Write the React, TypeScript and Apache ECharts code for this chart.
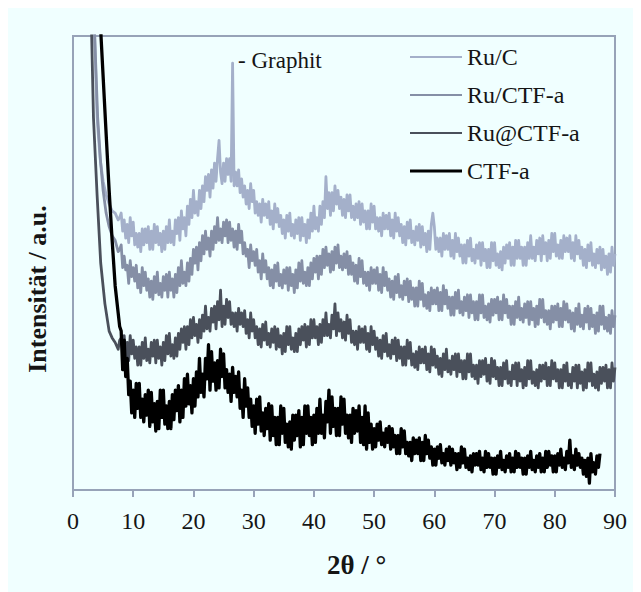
import React, { useEffect, useRef } from "react";
import * as echarts from "echarts";

// Scan grid of the main part of every pattern (2θ in degrees)
const ANGLE_START = 8;
const ANGLE_STEP = 0.25;

const seriesNames = ["Ru/C", "Ru/CTF-a", "Ru@CTF-a", "CTF-a"];
const seriesColors = ["#a4b0ca", "#858fa6", "#4a505b", "#000000"];
const xTicks = [0, 10, 20, 30, 40, 50, 60, 70, 80, 90];

// Low-angle flank of each pattern: [2θ, intensity]
const ruCHead: [number, number][] = [
  [3.0, 130], [3.6, 100], [4.0, 82], [4.5, 73], [5.0, 68], [5.5, 65],
  [6.0, 63], [6.5, 61.5], [7.0, 61], [7.5, 59.5], [7.75, 60],
];
const ruCtfHead: [number, number][] = [
  [3.0, 130], [3.6, 100], [4.1, 82], [4.6, 72], [5.0, 66], [5.5, 61],
  [6.0, 58], [6.5, 56], [7.0, 55], [7.5, 52.5], [7.75, 53],
];
const ruAtCtfHead: [number, number][] = [
  [2.8, 130], [3.1, 100], [3.4, 82], [4.0, 65], [4.6, 50], [5.3, 41],
  [6.0, 35], [6.5, 33.5], [7.0, 32.5], [7.5, 31], [7.75, 33],
];
const ctfHead: [number, number][] = [
  [4.3, 125], [4.65, 100], [5.4, 81], [6.0, 66], [6.5, 55], [7.0, 45],
  [7.5, 39], [7.75, 36],
];

// Intensities from 8° on, every 0.25° (one row of four per degree)
const ruC = [
  61, 57, 59.5, 55.5, 58.5, 54.5, 60, 56, 59, 54, 56.5, 53.5, 56.5, 52.5, 57.5, 54,
  57.5, 54.5, 58, 53, 57, 53, 58.5, 54.5, 58, 54, 56.5, 52.5, 57, 53, 58, 54.5,
  59.5, 54.5, 57, 54, 59.5, 56.5, 60, 55, 61.5, 57.5, 60, 56, 62.5, 58.5, 64, 60,
  66, 61, 63.5, 60.5, 66, 62, 67, 63.5, 69, 66, 69.5, 64.5, 70.5, 66.5, 72, 68,
  73, 77, 70, 67.5, 72, 68, 73, 69.5, 73, 68, 94, 67, 70, 67, 70.5, 65.5,
  68.5, 64.5, 67, 63, 66, 62, 67.5, 63.5, 66, 61, 63.5, 60.5, 63, 59, 64, 60.5,
  63, 60, 63.5, 58.5, 61.5, 57.5, 63, 59, 62, 58, 60.5, 56.5, 59.5, 55.5, 60.5, 57,
  61, 56, 58.5, 55.5, 59.5, 56.5, 60, 55, 60, 56, 58.5, 54.5, 59.5, 55.5, 61, 57,
  62.5, 57.5, 60, 57, 62.5, 58.5, 63.5, 60, 69, 62, 65.5, 60.5, 65.5, 61.5, 67, 63,
  66, 62, 64.5, 60.5, 64, 60, 65, 61.5, 65, 60, 62.5, 59.5, 63, 60, 63.5, 58.5,
  63, 59, 61.5, 57.5, 61.5, 57.5, 63, 59, 62.5, 57.5, 60, 57, 60, 56, 61, 57.5,
  60.5, 57.5, 61, 56, 59.5, 55.5, 61, 57, 60, 56, 58.5, 54.5, 58, 54, 59, 55.5,
  59.5, 54.5, 57, 54, 58, 55, 58.5, 53.5, 58, 54, 56.5, 52.5, 57, 53, 58.5, 61,
  58, 53, 55.5, 52.5, 55.5, 51.5, 56.5, 53, 56, 53, 56.5, 51.5, 55, 51, 56.5, 52.5,
  55.5, 51.5, 54, 50, 54, 50, 55, 51.5, 55.5, 50.5, 53, 50, 54, 51, 54.5, 49.5,
  54.5, 50.5, 53, 49, 53, 49, 54.5, 50.5, 54.5, 49.5, 52, 49, 52.5, 48.5, 53.5, 50,
  54, 51, 54.5, 49.5, 53.5, 49.5, 55, 51, 55, 51, 53.5, 49.5, 53.5, 49.5, 54.5, 51,
  56, 51, 53.5, 50.5, 55, 52, 55.5, 50.5, 56, 52, 54.5, 50.5, 55, 51, 56.5, 52.5,
  56.5, 51.5, 54, 51, 55, 51, 56, 52.5, 55.5, 52.5, 56, 51, 54.5, 50.5, 56, 52,
  55, 51, 53.5, 49.5, 53, 49, 54, 50.5, 54.5, 49.5, 52, 49, 53, 50, 53.5, 48.5,
  53, 49, 51.5, 47.5, 52, 48, 53.5, 49.5, 52,
];
const ruCtf = [
  54, 49, 51.5, 48.5, 49.5, 45.5, 50.5, 47, 49, 46, 49.5, 44.5, 47.5, 43.5, 49, 45,
  48, 44, 46.5, 42.5, 46, 42, 47, 43.5, 48, 43, 45.5, 42.5, 47, 44, 47.5, 42.5,
  48, 44, 46.5, 42.5, 47.5, 43.5, 49, 45, 50.5, 45.5, 48, 45, 50, 46, 51, 47.5,
  53, 50, 53.5, 48.5, 54.5, 50.5, 56, 52, 57, 53, 55.5, 51.5, 57, 53, 58, 54.5,
  60, 55, 57.5, 54.5, 59, 56, 59.5, 54.5, 59, 55, 57.5, 53.5, 57, 53, 58.5, 54.5,
  57, 52, 54.5, 51.5, 53, 49, 54, 50.5, 52.5, 49.5, 53, 48, 50.5, 46.5, 52, 48,
  50.5, 46.5, 49, 45, 48.5, 44.5, 49.5, 46, 50, 45, 47.5, 44.5, 48.5, 45.5, 49, 44,
  49, 45, 47.5, 43.5, 48.5, 44.5, 50, 46, 50.5, 45.5, 48, 45, 49, 45, 50, 46.5,
  51, 48, 51.5, 46.5, 51.5, 47.5, 53, 49, 53.5, 49.5, 52, 48, 52.5, 48.5, 53.5, 50,
  54, 49, 51.5, 48.5, 52, 49, 52.5, 47.5, 51.5, 47.5, 50, 46, 49.5, 45.5, 51, 47,
  50.5, 45.5, 48, 45, 48, 44, 49, 45.5, 48.5, 45.5, 49, 44, 47.5, 43.5, 49, 45,
  48, 44, 46.5, 42.5, 46, 42, 47, 43.5, 47.5, 42.5, 45, 42, 46, 43, 46.5, 41.5,
  46, 42, 44.5, 40.5, 44.5, 40.5, 46, 42, 45.5, 40.5, 43, 40, 43.5, 39.5, 44.5, 41,
  44, 41, 44.5, 39.5, 43.5, 39.5, 45, 41, 44, 40, 42.5, 38.5, 42.5, 38.5, 43.5, 40,
  44, 39, 41.5, 38.5, 42.5, 39.5, 43, 38, 43, 39, 41.5, 37.5, 41.5, 37.5, 43, 39,
  43, 38, 40.5, 37.5, 41, 37, 42, 38.5, 42, 39, 42.5, 37.5, 41.5, 37.5, 43, 39,
  42, 38, 40.5, 36.5, 40.5, 36.5, 41.5, 38, 42.5, 37.5, 40, 37, 41, 38, 41.5, 36.5,
  41.5, 37.5, 40, 36, 40.5, 36.5, 42, 38, 42, 37, 39.5, 36.5, 39.5, 35.5, 40.5, 37,
  40.5, 37.5, 41, 36, 40, 36, 41.5, 37.5, 41, 37, 39.5, 35.5, 39, 35, 40, 36.5,
  41, 36, 38.5, 35.5, 40, 37, 40.5, 35.5, 40, 36, 38.5, 34.5, 39, 35, 40.5, 36.5,
  40.5, 35.5, 38, 35, 38.5, 34.5, 39.5, 36, 38.5,
];
const ruAtCtf = [
  33.5, 30.5, 34, 29, 32.5, 28.5, 34, 30, 33, 29, 31.5, 27.5, 31.5, 27.5, 32.5, 29,
  33.5, 28.5, 31, 28, 32.5, 29.5, 33, 28, 33, 29, 31.5, 27.5, 32.5, 28.5, 34, 30,
  34.5, 29.5, 32, 29, 33.5, 29.5, 34.5, 31, 35.5, 32.5, 36, 31, 36, 32, 37.5, 33.5,
  38, 34, 36.5, 32.5, 37.5, 33.5, 38.5, 35, 40.5, 35.5, 38, 35, 40, 37, 40.5, 35.5,
  41.5, 37.5, 44, 36, 40.5, 36.5, 42, 38, 41.5, 36.5, 39, 36, 39, 35, 40, 36.5,
  39, 36, 39.5, 34.5, 37.5, 33.5, 39, 35, 37.5, 33.5, 36, 32, 35.5, 31.5, 36.5, 33,
  37, 32, 34.5, 31.5, 35.5, 32.5, 36, 31, 35.5, 31.5, 34, 30, 34.5, 30.5, 36, 32,
  36, 31, 33.5, 30.5, 34.5, 30.5, 35.5, 32, 36, 33, 36.5, 31.5, 36, 32, 37.5, 33.5,
  37.5, 33.5, 36, 32, 36.5, 32.5, 37.5, 34, 39, 34, 36.5, 33.5, 38.5, 35.5, 41, 34,
  39, 35, 37.5, 33.5, 37, 33, 38.5, 34.5, 37.5, 32.5, 35, 32, 35, 31, 36, 32.5,
  35.5, 32.5, 36, 31, 34.5, 30.5, 36, 32, 35, 31, 33.5, 29.5, 33, 29, 34, 30.5,
  34.5, 29.5, 32, 29, 33, 30, 33.5, 28.5, 33, 29, 31.5, 27.5, 31.5, 27.5, 33, 29,
  32.5, 27.5, 30, 27, 30.5, 26.5, 31.5, 28, 31, 28, 31.5, 26.5, 30, 26, 31.5, 27.5,
  31, 27, 29.5, 25.5, 29, 25, 30, 26.5, 31, 26, 28.5, 25.5, 29.5, 26.5, 30, 25,
  30, 26, 28.5, 24.5, 28.5, 24.5, 30, 26, 30, 25, 27.5, 24.5, 27.5, 23.5, 28.5, 25,
  28.5, 25.5, 29, 24, 27.5, 23.5, 29, 25, 28.5, 24.5, 27, 23, 27, 23, 28, 24.5,
  28.5, 23.5, 26, 23, 27.5, 24.5, 28, 23, 28, 24, 26.5, 22.5, 27, 23, 28.5, 24.5,
  28.5, 23.5, 26, 23, 26.5, 22.5, 27.5, 24, 27.5, 24.5, 28, 23, 27, 23, 28.5, 24.5,
  28, 24, 26.5, 22.5, 26.5, 22.5, 27.5, 24, 28, 23, 25.5, 22.5, 27, 24, 27.5, 22.5,
  27.5, 23.5, 26, 22, 26.5, 22.5, 28, 24, 28, 23, 25.5, 22.5, 26, 22, 27, 23.5,
  27, 24, 27.5, 22.5, 26.5, 22.5, 28, 24, 27,
];
const ctf = [
  35, 26.5, 33, 25, 29, 21, 24, 17, 22, 16, 23.5, 18, 23.5, 16, 20, 15,
  21, 16.5, 22, 14, 21.5, 15, 19, 13, 19.5, 13.5, 22, 16, 22, 14.5, 18.5, 13.5,
  19.5, 13.5, 21, 15.5, 22, 17.5, 23, 15, 22, 16, 24.5, 18.5, 25.5, 19, 23, 17,
  24.5, 18.5, 26, 20.5, 29, 21.5, 25.5, 20.5, 29, 24.5, 32, 22, 30.5, 24, 28, 22,
  28.5, 22.5, 31, 25, 30, 22.5, 26.5, 21.5, 25.5, 19.5, 27, 21.5, 25, 20.5, 26, 18,
  22, 16, 24.5, 18.5, 22.5, 16, 20, 14, 18.5, 12.5, 20, 14.5, 20.5, 13, 17, 12,
  18, 13.5, 19, 11, 18.5, 12, 16, 10, 16, 10, 18.5, 12.5, 18, 10.5, 14.5, 9.5,
  15, 9, 16.5, 11, 16.5, 12, 17.5, 9.5, 16, 10, 18.5, 12.5, 18.5, 12, 16, 10,
  16.5, 10.5, 18, 12.5, 20, 12.5, 16.5, 11.5, 19.5, 15, 22, 12.5, 20.5, 14, 18, 12,
  18, 12, 20.5, 14.5, 20, 12.5, 16.5, 11.5, 16.5, 10.5, 18, 12.5, 17.5, 13, 18.5, 10.5,
  16, 10, 18.5, 9, 17, 10.5, 14.5, 9, 13.5, 9.5, 14.5, 11, 15, 10, 12.5, 9.5,
  13.5, 10.5, 14, 9, 13.5, 9.5, 12, 8, 12, 8, 13.5, 9.5, 13, 8, 10.5, 7.5,
  10.5, 6.5, 11.5, 8, 11, 8, 11.5, 6.5, 10.5, 6.5, 12, 8, 11, 7, 9.5, 5.5,
  9, 5.5, 9.5, 7, 10, 6, 8, 5.5, 9, 6.5, 9.5, 5.5, 9, 6, 8, 4.5,
  8, 5, 9.5, 6, 9, 5, 7, 4.5, 7.5, 4, 8, 5.5, 8, 5.5, 8.5, 4.5,
  7, 4, 8.5, 5, 8, 5, 7, 3.5, 7, 3.5, 7.5, 5, 8.5, 4.5, 6.5, 4,
  7.5, 5, 8, 4, 7, 4, 8.5, 5, 8, 5, 7, 3.5, 7, 3.5, 7.5, 5,
  8.5, 4.5, 6.5, 4, 7.5, 5, 8, 4, 7, 4, 8.5, 5, 8.5, 5.5, 7.5, 4,
  7.5, 4, 8, 5.5, 9, 5, 7, 4.5, 8.5, 6, 11, 5, 7.5, 4.5, 9, 5.5,
  8, 5, 7, 3.5, 6.5, 3, 7, 1.5, 8, 4, 6, 3.5, 7.5, 5, 8,
];

const heads = [ruCHead, ruCtfHead, ruAtCtfHead, ctfHead];
const bodies = [ruC, ruCtf, ruAtCtf, ctf];
const lineWidths = [2.8, 2.8, 2.8, 3.3];

const SERIF = "'Liberation Serif', 'DejaVu Serif', serif";

function buildPattern(head: [number, number][], body: number[]): [number, number][] {
  return head.concat(body.map((v, i) => [ANGLE_START + i * ANGLE_STEP, v] as [number, number]));
}

export default function App() {
  const ref = useRef<HTMLDivElement>(null);

  useEffect(() => {
    if (!ref.current) return;
    const chart = echarts.init(ref.current, undefined, { renderer: "svg" });

    const series = seriesNames.map((name, k) => ({
      name,
      type: "line" as const,
      data: buildPattern(heads[k], bodies[k]),
      showSymbol: false,
      symbol: "none",
      clip: true,
      lineStyle: { color: seriesColors[k], width: lineWidths[k], join: "round" },
      itemStyle: { color: seriesColors[k] },
      z: 2 + k,
    }));

    chart.setOption({
      animation: false,
      backgroundColor: "#f0ffff",
      grid: {
        left: 65,
        right: 26,
        top: 28,
        bottom: 102,
        show: true,
        borderColor: "#97a3b8",
        borderWidth: 2,
        backgroundColor: "transparent",
      },
      legend: {
        orient: "vertical",
        left: 402,
        top: 37,
        padding: 0,
        itemWidth: 52,
        itemHeight: 14,
        itemGap: 14,
        data: seriesNames.map((name, k) => ({
          name,
          icon: "path://M0,6 L52,6 L52," + (k === 3 ? 9 : 8) + " L0," + (k === 3 ? 9 : 8) + " Z",
        })),
        textStyle: { fontFamily: SERIF, fontSize: 24, color: "#151515", lineHeight: 24 },
        selectedMode: false,
      },
      xAxis: {
        type: "value",
        min: 0,
        max: 90,
        interval: 10,
        axisLine: { show: true, lineStyle: { color: "#97a3b8", width: 2 } },
        axisTick: { show: true, length: 7, lineStyle: { color: "#97a3b8", width: 2 } },
        axisLabel: {
          fontFamily: SERIF,
          fontSize: 24,
          color: "#151515",
          margin: 19,
          formatter: (v: number) => (xTicks.includes(v) ? String(v) : ""),
        },
        splitLine: { show: false },
      },
      yAxis: {
        type: "value",
        min: 0,
        max: 100,
        axisLine: { show: false },
        axisTick: { show: false },
        axisLabel: { show: false },
        splitLine: { show: false },
      },
      graphic: [
        {
          type: "text",
          left: 327 - 8,
          top: 551 - 8,
          style: {
            text: "2θ / °",
            font: "bold 27px " + SERIF,
            fill: "#151515",
          },
        },
        {
          type: "text",
          x: 37 - 8,
          y: 289 - 8,
          rotation: Math.PI / 2,
          style: {
            text: "Intensität / a.u.",
            font: "bold 26px " + SERIF,
            fill: "#151515",
            textAlign: "center",
            textVerticalAlign: "middle",
          },
        },
        {
          type: "text",
          x: 238 - 8,
          y: 60 - 8,
          style: {
            text: "- Graphit",
            font: "23px " + SERIF,
            fill: "#151515",
            textVerticalAlign: "middle",
          },
        },
      ],
      series,
    });

    return () => chart.dispose();
  }, []);

  return <div ref={ref} style={{ width: 633, height: 584, background: "#f0ffff" }} />;
}
